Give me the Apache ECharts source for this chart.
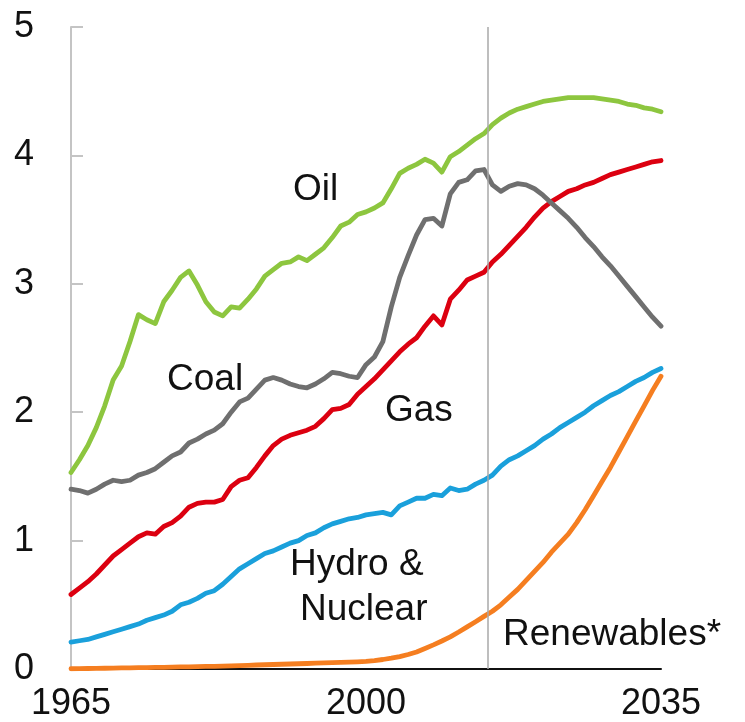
<!DOCTYPE html>
<html>
<head>
<meta charset="utf-8">
<script src="https://cdn.jsdelivr.net/npm/echarts@6/dist/echarts.min.js"></script>
<style>
html,body{margin:0;padding:0;background:#fff;}
#c{width:745px;height:722px;}
</style>
</head>
<body>
<div id="c"></div>
<script>
const years = [1965,1966,1967,1968,1969,1970,1971,1972,1973,1974,1975,1976,1977,1978,1979,1980,1981,1982,1983,1984,1985,1986,1987,1988,1989,1990,1991,1992,1993,1994,1995,1996,1997,1998,1999,2000,2001,2002,2003,2004,2005,2006,2007,2008,2009,2010,2011,2012,2013,2014,2015,2016,2017,2018,2019,2020,2021,2022,2023,2024,2025,2026,2027,2028,2029,2030,2031,2032,2033,2034,2035];

const oil = [1.53,1.63,1.74,1.88,2.05,2.25,2.36,2.55,2.76,2.72,2.69,2.86,2.95,3.05,3.10,2.99,2.86,2.78,2.75,2.82,2.81,2.88,2.96,3.06,3.11,3.16,3.17,3.21,3.18,3.23,3.28,3.36,3.45,3.48,3.54,3.56,3.59,3.63,3.74,3.86,3.90,3.93,3.97,3.94,3.87,3.99,4.03,4.08,4.13,4.17,4.24,4.29,4.33,4.36,4.38,4.40,4.42,4.43,4.44,4.45,4.45,4.45,4.45,4.44,4.43,4.42,4.40,4.39,4.37,4.36,4.34];

const coal = [1.40,1.39,1.37,1.40,1.44,1.47,1.46,1.47,1.51,1.53,1.56,1.61,1.66,1.69,1.76,1.79,1.83,1.86,1.91,2.00,2.08,2.11,2.18,2.25,2.27,2.25,2.22,2.20,2.19,2.22,2.26,2.31,2.30,2.28,2.27,2.37,2.43,2.55,2.82,3.05,3.22,3.38,3.50,3.51,3.45,3.70,3.79,3.81,3.88,3.89,3.77,3.72,3.76,3.78,3.77,3.74,3.69,3.63,3.57,3.51,3.44,3.36,3.29,3.21,3.14,3.06,2.98,2.90,2.82,2.74,2.67];

const gas = [0.58,0.63,0.68,0.74,0.81,0.88,0.93,0.98,1.03,1.06,1.05,1.11,1.14,1.19,1.26,1.29,1.30,1.30,1.32,1.42,1.47,1.49,1.57,1.66,1.74,1.79,1.82,1.84,1.86,1.89,1.95,2.02,2.03,2.06,2.14,2.20,2.26,2.33,2.40,2.47,2.53,2.58,2.67,2.75,2.68,2.88,2.95,3.03,3.06,3.09,3.17,3.23,3.30,3.37,3.44,3.52,3.59,3.64,3.68,3.72,3.74,3.77,3.79,3.82,3.85,3.87,3.89,3.91,3.93,3.95,3.96];

const hydroNuclear = [0.21,0.22,0.23,0.25,0.27,0.29,0.31,0.33,0.35,0.38,0.40,0.42,0.45,0.50,0.52,0.55,0.59,0.61,0.66,0.72,0.78,0.82,0.86,0.90,0.92,0.95,0.98,1.00,1.04,1.06,1.10,1.13,1.15,1.17,1.18,1.20,1.21,1.22,1.20,1.27,1.30,1.33,1.33,1.36,1.35,1.41,1.39,1.40,1.44,1.47,1.51,1.58,1.63,1.66,1.70,1.74,1.79,1.83,1.88,1.92,1.96,2.00,2.05,2.09,2.13,2.16,2.20,2.24,2.27,2.31,2.34];

const renewables = [0.002,0.003,0.004,0.005,0.006,0.007,0.008,0.009,0.010,0.011,0.012,0.013,0.014,0.016,0.017,0.018,0.020,0.021,0.023,0.025,0.027,0.029,0.031,0.033,0.035,0.037,0.039,0.041,0.043,0.045,0.047,0.049,0.051,0.053,0.056,0.060,0.066,0.074,0.084,0.097,0.113,0.133,0.160,0.188,0.218,0.250,0.288,0.328,0.368,0.410,0.450,0.500,0.560,0.620,0.690,0.760,0.830,0.910,0.980,1.050,1.140,1.240,1.350,1.460,1.570,1.690,1.810,1.930,2.050,2.170,2.280];

const xTickLabels = [1965, 2000, 2035];
const yTickLabels = [0, 1, 2, 3, 4, 5];
const forecastStart = 2014.5;

const FONT = '"Liberation Sans", Arial, sans-serif';

function pairs(vals){ return years.map((y,i)=>[y, vals[i]]); }

const chart = echarts.init(document.getElementById('c'), null, {renderer:'canvas'});

function lineSeries(name, vals, color, extra){
  return Object.assign({
    name: name,
    type: 'line',
    data: pairs(vals),
    symbol: 'none',
    smooth: false,
    lineStyle: {color: color, width: 4.8, cap: 'round', join: 'round'},
    itemStyle: {color: color},
    animation: false
  }, extra || {});
}

chart.setOption({
  backgroundColor: '#fff',
  animation: false,
  grid: {left: 71, right: 84, top: 27, bottom: 53, containLabel: false},
  xAxis: {
    type: 'value',
    min: 1965, max: 2035,
    axisLine: {show: true, lineStyle: {color: '#111', width: 2}},
    axisTick: {show: false},
    splitLine: {show: false},
    axisLabel: {
      customValues: xTickLabels,
      color: '#111', fontFamily: FONT, fontSize: 36, margin: 17,
      formatter: v => String(v)
    }
  },
  yAxis: {
    type: 'value',
    min: 0, max: 5, interval: 1,
    axisLine: {show: true, lineStyle: {color: '#c4c4c4', width: 2}},
    axisTick: {show: true, inside: true, length: 12, lineStyle: {color: '#c4c4c4', width: 2}},
    splitLine: {show: false},
    axisLabel: {
      color: '#111', fontFamily: FONT, fontSize: 36, margin: 37,
      formatter: v => yTickLabels.indexOf(v) >= 0 ? String(v) : ''
    }
  },
  series: [
    lineSeries('Renewables*', renewables, '#f57e20', {
      markLine: {
        silent: true, symbol: 'none', animation: false,
        label: {show: false},
        lineStyle: {color: '#a8a8a8', width: 1.5, type: 'solid'},
        data: [{xAxis: forecastStart}]
      }
    }),
    lineSeries('Hydro & Nuclear', hydroNuclear, '#1aa0db'),
    lineSeries('Gas', gas, '#dc0010'),
    lineSeries('Coal', coal, '#6f6f6f'),
    lineSeries('Oil', oil, '#8dc63f')
  ],
  graphic: [
    {type:'text', left: 293, top: 171, style:{text:'Oil', font:'37px '+FONT, fill:'#111'}},
    {type:'text', left: 167, top: 361, style:{text:'Coal', font:'37px '+FONT, fill:'#111'}},
    {type:'text', left: 385, top: 392, style:{text:'Gas', font:'37px '+FONT, fill:'#111'}},
    {type:'text', left: 290, top: 546, style:{text:'Hydro &', font:'37px '+FONT, fill:'#111'}},
    {type:'text', left: 300, top: 591, style:{text:'Nuclear', font:'37px '+FONT, fill:'#111'}},
    {type:'text', left: 503, top: 616, style:{text:'Renewables*', font:'37px '+FONT, fill:'#111'}}
  ]
});
</script>
</body>
</html>
